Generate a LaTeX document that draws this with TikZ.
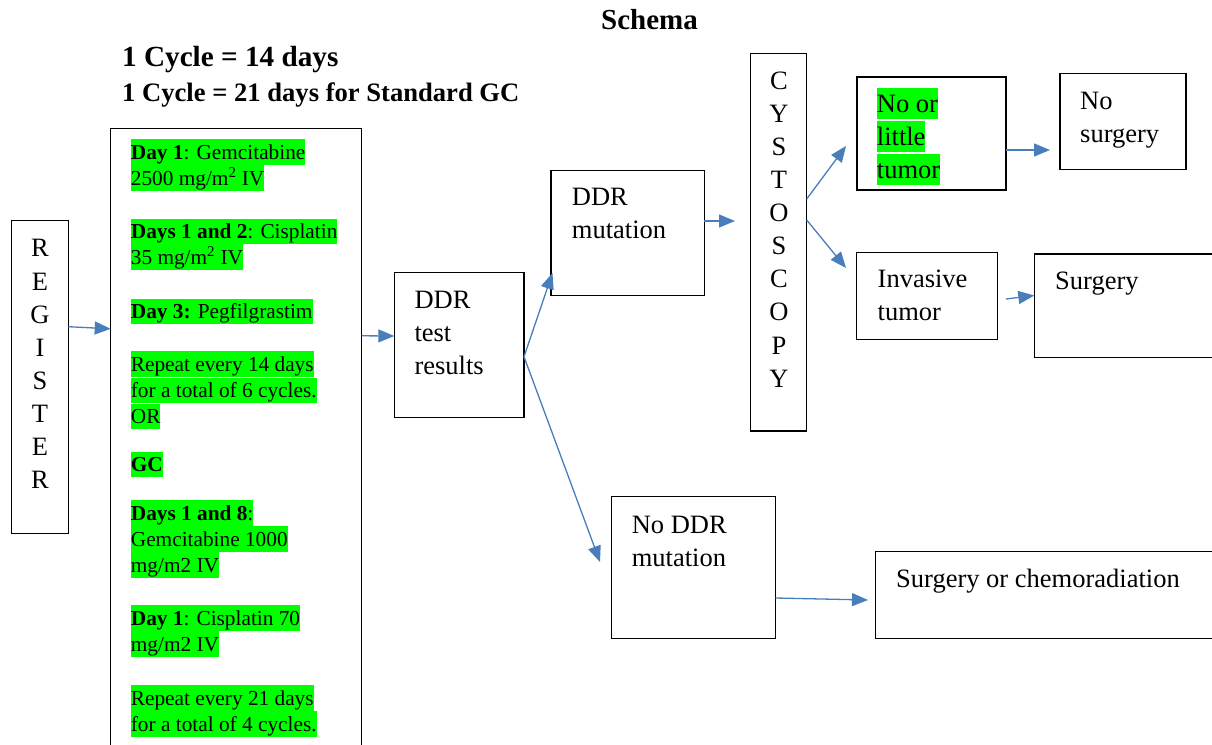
\documentclass[tikz,border=0pt]{standalone}
\usepackage{fontspec}
\setmainfont{Liberation Serif}
\usetikzlibrary{arrows.meta,calc}
\definecolor{hl}{RGB}{0,255,0}
\definecolor{arr}{RGB}{74,126,187}
\newcommand\bodyfont{\fontsize{26.5}{32.8}\selectfont}
\newcommand\leftfont{\fontsize{21.3}{26}\selectfont}
\newcommand\vertfont{\fontsize{26.5}{33.1}\selectfont}
\begin{document}
\begin{tikzpicture}[x=1pt,y=-1pt,
  box/.style={draw=black, line width=1.3pt, inner sep=0pt, outer sep=0pt, anchor=north west},
  boxtxt/.style={inner sep=0pt, anchor=north west, align=left, font=\bodyfont},
  vtxt/.style={inner sep=0pt, anchor=north, align=center, font=\vertfont},
  hlline/.style={fill=hl, inner sep=0pt, anchor=north west, text height=20pt, text depth=5.3pt, font=\leftfont},
  hlbig/.style={fill=hl, inner sep=0pt, anchor=north west, text height=25pt, text depth=6.5pt, font=\fontsize{26.5}{33}\selectfont},
  conn/.style={draw=arr, line width=1.3pt, -{Triangle[length=16pt,width=13pt]}},
  title/.style={inner sep=0pt, anchor=base west, font=\bfseries\fontsize{26.6}{30}\selectfont},
]
\useasboundingbox (0,0) rectangle (1212,744);

% boxes
\node[box, minimum width=56.6pt, minimum height=312.6pt] (reg) at (11.7,220.7) {};
\node[box, minimum width=251pt, minimum height=630pt] (big) at (110.7,128.3) {};
\node[box, minimum width=129.7pt, minimum height=145pt] (res) at (394.3,272.7) {};
\node[box, minimum width=153.3pt, minimum height=125pt] (mut) at (551,170.7) {};
\node[box, minimum width=56pt, minimum height=377.7pt] (cys) at (750.7,53.3) {};
\node[box, line width=2.4pt, minimum width=149pt, minimum height=113.3pt] (little) at (856.7,76.7) {};
\node[box, minimum width=126pt, minimum height=96pt] (nosurg) at (1060,73.3) {};
\node[box, minimum width=141pt, minimum height=87pt] (inv) at (856.7,252.3) {};
\node[box, minimum width=190pt, minimum height=103.3pt] (surg) at (1034.3,254) {};
\node[box, minimum width=164pt, minimum height=141.6pt] (noddr) at (611.5,496.7) {};
\node[box, minimum width=350pt, minimum height=86.6pt] (chemo) at (875.6,551.7) {};

% titles
\node[title, font=\bfseries\fontsize{29}{33}\selectfont, anchor=base] (schema) at (649.5,29.5) {Schema};
\node[title, font=\bfseries\fontsize{29.2}{33}\selectfont] (cyc1) at (122,66) {1 Cycle = 14 days};
\node[title] (cyc2) at (122,101) {1 Cycle = 21 days for Standard GC};

% vertical texts
\node[vtxt] (regt) at (40,233.5) {\rule{0pt}{23.2pt}R\\E\\G\\I\\S\\T\\E\\R};
\node[vtxt] (cyst) at (779,65.8) {\rule{0pt}{23.2pt}C\\Y\\S\\T\\O\\S\\C\\O\\P\\Y};

% box texts
\node[boxtxt] (rest) at (414.3,285.2) {\rule{0pt}{23.1pt}DDR\\test\\results};
\node[boxtxt] (mutt) at (571.7,182.6) {\rule{0pt}{23.1pt}DDR\\mutation};
\node[boxtxt] (nosurgt) at (1080,85.9) {\rule{0pt}{23.1pt}No\\surgery};
\node[boxtxt] (invt) at (877.5,264.2) {\rule{0pt}{23.1pt}Invasive\\tumor};
\node[boxtxt] (surgt) at (1055,266.2) {\rule{0pt}{23.1pt}Surgery};
\node[boxtxt] (noddrt) at (631.6,510.2) {\rule{0pt}{23.1pt}No DDR\\mutation};
\node[boxtxt] (chemot) at (896,564.6) {\rule{0pt}{23.1pt}Surgery or chemoradiation};

% highlighted little tumor
\node[hlbig] (lt1) at (876.7,87.3) {No or};
\node[hlbig] (lt2) at (876.7,120.3) {little};
\node[hlbig] (lt3) at (876.7,153.3) {tumor};

% left regimen text
\node[hlline] (l1) at (130.7,139) {\textbf{Day 1}: Gemcitabine};
\node[hlline] (l2) at (130.7,165) {2500 mg/m\textsuperscript{2} IV};
\node[hlline] (l3) at (130.7,218.3) {\textbf{Days 1 and 2}: Cisplatin};
\node[hlline] (l4) at (130.7,244) {35 mg/m\textsuperscript{2} IV};
\node[hlline] (l5) at (130.7,298.3) {\textbf{Day 3:} Pegfilgrastim};
\node[hlline] (l6) at (130.7,351) {Repeat every 14 days};
\node[hlline] (l7) at (130.7,377.3) {for a total of 6 cycles.};
\node[hlline] (l8) at (130.7,403.7) {OR};
\node[hlline] (l9) at (130.7,451.7) {\textbf{GC}};
\node[hlline] (l10) at (130.7,500) {\textbf{Days 1 and 8}:};
\node[hlline] (l11) at (130.7,526) {Gemcitabine 1000};
\node[hlline] (l12) at (130.7,552) {mg/m2 IV};
\node[hlline] (l13) at (130.7,605) {\textbf{Day 1}: Cisplatin 70};
\node[hlline] (l14) at (130.7,631) {mg/m2 IV};
\node[hlline] (l15) at (130.7,685) {Repeat every 21 days};
\node[hlline] (l16) at (130.7,711) {for a total of 4 cycles.};

% connectors
\draw[conn] ($(reg.north east)+(0,106)$) -- ($(big.north west)+(0,200.5)$);
\draw[conn] ($(big.north east)+(0,207.5)$) -- ($(res.north west)+(0,63.3)$);
\draw[conn] ($(res.north east)+(0,84)$) -- ($(mut.south west)+(1.5,-22.7)$);
\draw[conn] ($(res.north east)+(0,84)$) -- ($(noddr.north west)+(-11.5,65.3)$);
\draw[conn] ($(mut.north east)+(0,50.3)$) -- ($(cys.north west)+(-15.7,167.7)$);
\draw[conn] ($(cys.north east)+(0,145.7)$) -- ($(little.north west)+(-10.7,69.3)$);
\draw[conn] ($(cys.north east)+(0,166.7)$) -- ($(inv.north west)+(-10.7,15.7)$);
\draw[conn] ($(little.north east)+(0,73.3)$) -- ($(nosurg.north west)+(-10,76.7)$);
\draw[conn] ($(inv.north east)+(8.3,46.7)$) -- ($(surg.north west)+(0,41.5)$);
\draw[conn] ($(noddr.north east)+(0,101.3)$) -- ($(chemo.north west)+(-7.6,48.3)$);
\end{tikzpicture}
\end{document}
